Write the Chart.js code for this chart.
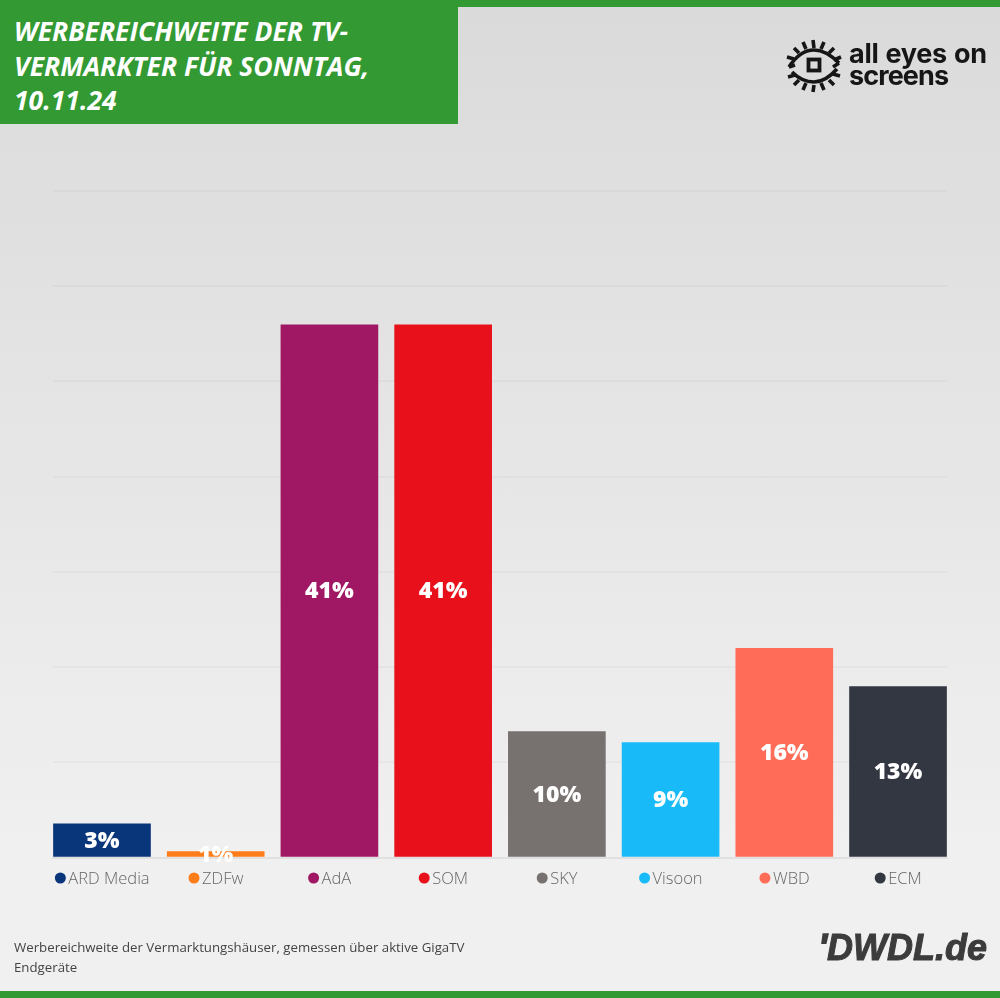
<!DOCTYPE html>
<html lang="de">
<head>
<meta charset="utf-8">
<title>Werbereichweite der TV-Vermarkter</title>
<script src="https://cdn.jsdelivr.net/npm/chart.js@4/dist/chart.umd.min.js"></script>
<style>
  html, body { margin: 0; padding: 0; }
  body { width: 1000px; height: 998px; position: relative; overflow: hidden;
         background: linear-gradient(to bottom, #dadada 0%, #dedede 15%, #f0f0f0 85%, #f0f0f0 100%);
         font-family: 'Open Sans', sans-serif; }
  #chart { position: absolute; left: 0; top: 0; }
  .bar-top, .bar-bottom { position: absolute; left: 0; width: 1000px; height: 7px; background: #339933; }
  .bar-top { top: 0; }
  .bar-bottom { bottom: 0; }
  #title { position: absolute; left: 0; top: 0; width: 458px; height: 124px; background: #339933; }
  #title div { position: absolute; left: 14px; top: 14px; color: #fff; font: italic 700 26.5px/34.5px 'Open Sans', sans-serif; white-space: nowrap; }
  #note { position: absolute; left: 14px; top: 937px; color: #444; font: 400 13.25px/20px 'Open Sans', sans-serif; white-space: nowrap; }
  #dwdl { position: absolute; right: 13px; top: 928px; color: #3c3c3c; font: italic 700 36px/40px 'Liberation Sans', sans-serif; -webkit-text-stroke: 1px #3c3c3c; white-space: nowrap; }
  #dwdl span { -webkit-text-stroke: 1.5px #3c3c3c; margin-right: 0px; }
  #logo-text { position: absolute; left: 849px; top: 43px; color: #161616; font: 700 27px/22px 'Inter', sans-serif; letter-spacing: -0.3px; word-spacing: 1px; white-space: nowrap; }
  #logo-text span { letter-spacing: -0.9px; }
  #logo-eye { position: absolute; left: 786px; top: 39px; }
</style>
</head>
<body>
<canvas id="chart" width="1000" height="998"></canvas>
<div class="bar-top"></div>
<div class="bar-bottom"></div>
<div id="title"><div>WERBEREICHWEITE DER TV-<br>VERMARKTER FÜR SONNTAG,<br>10.11.24</div></div>
<svg id="logo-eye" width="56" height="54" viewBox="0 0 56 54" fill="none" stroke="#161616" stroke-width="3.6">
  <path d="M3 28 C12 14 22 11 28 11 C35 11 44 15 53 24"/>
  <path d="M3 28 L9 26 M53 24 L47 28"/>
  <path d="M6 33 C14 41 22 43 28 43 C36 43 43 39 51 30"/>
  <rect x="22.5" y="20.5" width="11" height="11" stroke-width="3.8"/>
  <path d="M27 1 L28 9 M17 3 L20 10 M38 3 L35 10 M8 9 L13 14 M48 9 L43 14 M1 18 L8 20 M55 18 L48 21"/>
  <path d="M2 38 L9 36 M54 37 L47 35 M8 46 L13 41 M48 46 L43 41 M17 51 L20 44 M38 51 L35 44 M27 53 L28 46"/>
</svg>
<div id="logo-text">all eyes on<br><span>screens</span></div>
<div id="note">Werbereichweite der Vermarktungshäuser, gemessen über aktive GigaTV<br>Endgeräte</div>
<div id="dwdl"><span>'</span>DWDL.de</div>
<script>
const categories = ['ARD Media', 'ZDFw', 'AdA', 'SOM', 'SKY', 'Visoon', 'WBD', 'ECM'];
const reach = [2.6, 0.45, 41, 41, 9.7, 8.85, 16.1, 13.15];
const reachLabels = ['3%', '1%', '41%', '41%', '10%', '9%', '16%', '13%'];
const barColors = ['#09367a', '#ff7c1a', '#a01764', '#e8101a', '#77716f', '#18bbf8', '#ff6d58', '#333742'];
const axisMax = 51.3;
const axisStep = 7.33;

const LABEL_SHIFT = 7;

// white percentage in the middle of each bar
const barLabels = {
  id: 'barLabels',
  afterDatasetsDraw(c) {
    const ctx = c.ctx;
    ctx.save();
    ctx.font = "800 23px 'Open Sans'";
    ctx.fillStyle = '#fff';
    ctx.textAlign = 'center';
    ctx.textBaseline = 'middle';
    c.getDatasetMeta(0).data.forEach((bar, i) => {
      ctx.fillText(reachLabels[i], bar.x, (bar.y + bar.base) / 2 + 1);
    });
    ctx.restore();
  },
};

// coloured dot in front of each axis label
const labelDots = {
  id: 'labelDots',
  afterDraw(c) {
    const ctx = c.ctx;
    const x = c.scales.x;
    ctx.save();
    ctx.font = "300 16.5px 'Open Sans'";
    categories.forEach((name, i) => {
      const w = ctx.measureText(name).width;
      ctx.beginPath();
      ctx.arc(x.getPixelForValue(i) + LABEL_SHIFT - w / 2 - 8, 878, 5.5, 0, Math.PI * 2);
      ctx.fillStyle = barColors[i];
      ctx.fill();
    });
    ctx.restore();
  },
};

new Chart(document.getElementById('chart').getContext('2d'), {
  type: 'bar',
  data: {
    datasets: [{
      data: reach.map((v, i) => ({ x: i, y: v })),
      backgroundColor: barColors,
      barThickness: 97,
    }],
  },
  options: {
    responsive: false,
    animation: false,
    layout: { padding: { left: 53, right: 53, top: 191, bottom: 0 } },
    plugins: { legend: { display: false }, tooltip: { enabled: false } },
    scales: {
      x: {
        type: 'linear',
        offset: false,
        bounds: 'data',
        min: -0.4307,
        max: 7.4307,
        grid: { display: false },
        border: { color: '#e0e0e0', width: 2 },
        afterFit: (s) => { s.height = 140.5; },
        afterBuildTicks: (s) => { s.ticks = categories.map((name, i) => ({ value: i })); },
        ticks: {
          autoSkip: false,
          maxRotation: 0,
          padding: 4,
          labelOffset: LABEL_SHIFT,
          color: '#666',
          font: { family: 'Open Sans', size: 16.5, weight: '300' },
          callback: (v) => categories[v],
        },
      },
      y: {
        min: 0,
        max: axisMax,
        grid: { color: 'rgba(0,0,0,0.028)', lineWidth: 2, drawTicks: false },
        border: { display: false },
        afterFit: (s) => { s.width = 0; },
        ticks: { display: false, stepSize: axisStep },
      },
    },
  },
  plugins: [barLabels, labelDots],
});
</script>
</body>
</html>
